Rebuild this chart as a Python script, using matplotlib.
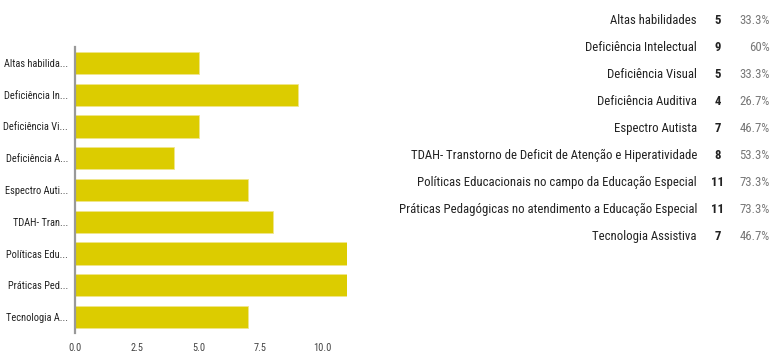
import matplotlib.pyplot as plt

# Survey answers: areas of interest (15 respondents)
categorias = [
    "Altas habilidades",
    "Deficiência Intelectual",
    "Deficiência Visual",
    "Deficiência Auditiva",
    "Espectro Autista",
    "TDAH- Transtorno de Deficit de Atenção e Hiperatividade",
    "Políticas Educacionais no campo da Educação Especial",
    "Práticas Pedagógicas no atendimento a Educação Especial",
    "Tecnologia Assistiva",
]
rotulos_curtos = [
    "Altas habilida...",
    "Deficiência In...",
    "Deficiência Vi...",
    "Deficiência A...",
    "Espectro Auti...",
    "TDAH- Tran...",
    "Políticas Edu...",
    "Práticas Ped...",
    "Tecnologia A...",
]
respostas = [5, 9, 5, 4, 7, 8, 11, 11, 7]
total = 15
xticks = [0.0, 2.5, 5.0, 7.5, 10.0]

plt.rcParams["font.family"] = ["Roboto Condensed", "Liberation Sans", "DejaVu Sans"]

fig = plt.figure(figsize=(7.72, 3.53), dpi=100)
ax = fig.add_axes([0.0972, 0.0567, 0.3523, 0.810])

y = list(range(len(respostas)))
ax.barh(y, respostas, height=0.7, color="#dccc00", edgecolor="#f0e68c", linewidth=0.6)
ax.set_ylim(len(respostas) - 0.5, -0.5)
ax.set_xlim(0, 11)

ax.set_yticks(y)
ax.set_yticklabels(rotulos_curtos, fontsize=7.5, color="#222222")
ax.set_xticks(xticks)
ax.set_xticklabels([f"{t:.1f}" for t in xticks], fontsize=7.5, color="#444444")
ax.tick_params(axis="both", length=0)
ax.tick_params(axis="y", pad=5)
ax.tick_params(axis="x", pad=7)

for lado in ["top", "right", "bottom"]:
    ax.spines[lado].set_visible(False)
ax.spines["left"].set_color("#999999")
ax.spines["left"].set_linewidth(1.6)

# table of counts and percentages on the right
y0 = 1 - 20 / 353
passo = 27.1 / 353
for i, (nome, n) in enumerate(zip(categorias, respostas)):
    yy = y0 - i * passo
    pct = 100 * n / total
    txt = f"{pct:.1f}".rstrip("0").rstrip(".") + "%"
    fig.text(697 / 772, yy, nome, ha="right", va="center", fontsize=9.2, color="#222222")
    fig.text(718 / 772, yy, str(n), ha="center", va="center", fontsize=9.2,
             color="#222222", fontweight="bold")
    fig.text(770 / 772, yy, txt, ha="right", va="center", fontsize=9.2, color="#777777")

fig.savefig("out.png", dpi=100, facecolor="white")
